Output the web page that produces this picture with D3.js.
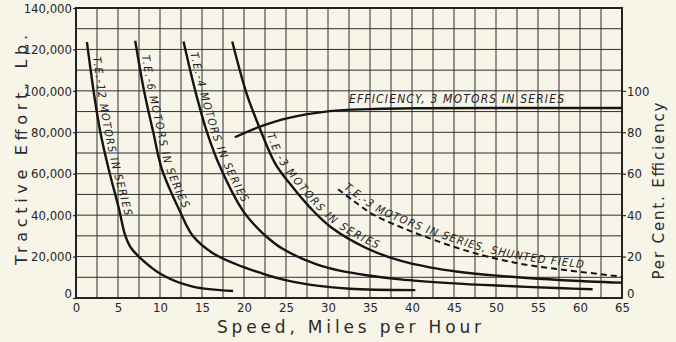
<!DOCTYPE html>
<html>
<head>
<meta charset="utf-8">
<script src="https://cdn.jsdelivr.net/npm/d3@7"></script>
<style>
body { margin: 0; background: #f7f4e8; }
svg { display: block; }
.tick text { font-family: "Liberation Sans Narrow", "DejaVu Sans Condensed", sans-serif; font-size: 13px; fill: #262626; }
.tick line { stroke: #262626; stroke-width: 1.2; }
.title { font-family: "DejaVu Sans", sans-serif; fill: #2a2a2a; }
.lbl { font-family: "DejaVu Sans Condensed", sans-serif; font-style: italic; font-size: 11px; fill: #1e1e1e; }
</style>
</head>
<body>
<div id="chart"></div>
<script>
// speed (miles per hour), tractive effort (lb)
var te12 = [[1.3,123500],[2.2,97000],[2.9,80000],[3.9,62000],[5.15,42500],[5.8,31000],[6.5,24500],[7.5,19900],[10.3,11100],[13.9,5500],[18.7,3400]];
var te6 = [[7.05,124200],[8.1,100000],[9.2,80000],[10.2,62500],[12.3,42500],[13.9,30000],[16.3,21600],[19.8,15100],[21.9,12200],[24.7,8900],[28.65,6000],[32.6,4500],[40.4,3800]];
var te4 = [[12.8,123800],[14.2,100000],[15.6,80000],[17.3,62000],[19.8,42500],[21.2,35500],[23.0,28500],[24.7,23500],[28.65,16200],[31.4,13200],[34.6,11000],[38.6,9000],[44.5,7200],[50.1,6000],[58,4700],[61.5,4200]];
var te3 = [[18.6,123800],[20.3,98800],[21.8,82700],[23.7,65000],[25.5,55000],[27.9,43500],[30.4,34000],[34.6,24000],[38.6,18000],[42.1,14800],[45.5,12700],[50.1,10800],[58,8600],[65,7400]];
var te3shunt = [[31.2,52500],[33,47000],[35.5,40000],[39.4,33000],[41.3,30000],[46.8,22400],[52.7,16700],[58.7,13300],[65,10300]];
// speed, per cent efficiency
var eff3 = [[18.9,77.6],[21.9,82.7],[25.1,86.7],[30.2,90.2],[35,91.2],[41,91.6],[50,91.7],[65,91.7]];

var speedTicks = d3.range(0, 66, 5);
var teTicks = d3.range(0, 140001, 20000);
var effTicks = d3.range(0, 101, 20);

var width = 676, height = 342;
var svg = d3.select("#chart").append("svg")
    .attr("width", width)
    .attr("height", height);

var x = d3.scaleLinear().domain([0, 65]).range([76, 622]);
var y = d3.scaleLinear().domain([0, 140000]).range([298, 8]);
var yEff = d3.scaleLinear().domain([0, 140]).range([298, 8]);

// grid
var grid = svg.append("g").attr("stroke", "#2e2e2e").attr("stroke-width", 1);
grid.selectAll("line.v").data(d3.range(0, 65.01, 2.5)).enter().append("line")
    .attr("x1", d => x(d)).attr("x2", d => x(d))
    .attr("y1", y(0)).attr("y2", y(140000));
grid.selectAll("line.h").data(d3.range(0, 140001, 10000)).enter().append("line")
    .attr("y1", d => y(d)).attr("y2", d => y(d))
    .attr("x1", x(0)).attr("x2", x(65));

// axes
var left = svg.append("g")
    .attr("transform", "translate(" + x(0) + ",0)")
    .call(d3.axisLeft(y).tickValues(teTicks).tickFormat(d3.format(",")).tickSize(3).tickPadding(1));
var bottom = svg.append("g")
    .attr("transform", "translate(0," + y(0) + ")")
    .call(d3.axisBottom(x).tickValues(speedTicks).tickSize(0).tickPadding(5));
var right = svg.append("g")
    .attr("transform", "translate(" + x(65) + ",0)")
    .call(d3.axisRight(yEff).tickValues(effTicks).tickSize(4).tickPadding(1));
svg.selectAll(".domain").remove();
left.selectAll(".tick").filter(d => d == 0).select("text").attr("y", -5);
right.selectAll(".tick").filter(d => d == 0).select("text").attr("y", -5);
right.selectAll(".tick").filter(d => d == 0).select("line").remove();

// frame
svg.append("rect")
    .attr("x", x(0)).attr("y", y(140000))
    .attr("width", x(65) - x(0)).attr("height", y(0) - y(140000))
    .attr("fill", "none").attr("stroke", "#222").attr("stroke-width", 2);

// curves
var line = d3.line().x(d => x(d[0])).y(d => y(d[1])).curve(d3.curveCatmullRom.alpha(0.5));
var effLine = d3.line().x(d => x(d[0])).y(d => yEff(d[1])).curve(d3.curveCatmullRom.alpha(0.5));

var curves = [
  {id: "c12", data: te12, label: "T.E.-12 MOTORS IN SERIES", off: 16, len: 162},
  {id: "c6", data: te6, label: "T.E.-6 MOTORS IN SERIES", off: 16, len: 160},
  {id: "c4", data: te4, label: "T.E.-4 MOTORS IN SERIES", off: 13, len: 160},
  {id: "c3", data: te3, label: "T.E.-3 MOTORS IN SERIES", off: 100, len: 166}
];

curves.forEach(function(c) {
  svg.append("path")
      .attr("id", c.id)
      .attr("d", line(c.data))
      .attr("fill", "none").attr("stroke", "#141414").attr("stroke-width", 2.4);
  svg.append("text").attr("class", "lbl").attr("dy", -4)
    .append("textPath")
      .attr("href", "#" + c.id)
      .attr("startOffset", c.off)
      .attr("textLength", c.len)
      .text(c.label);
});

svg.append("path")
    .attr("id", "c3s")
    .attr("d", line(te3shunt))
    .attr("fill", "none").attr("stroke", "#141414").attr("stroke-width", 2)
    .attr("stroke-dasharray", "6,4");
svg.append("text").attr("class", "lbl").attr("dy", -4)
  .append("textPath")
    .attr("href", "#c3s")
    .attr("startOffset", 4)
    .attr("textLength", 258)
    .text("T.E.-3 MOTORS IN SERIES, SHUNTED FIELD");

svg.append("path")
    .attr("d", effLine(eff3))
    .attr("fill", "none").attr("stroke", "#141414").attr("stroke-width", 2.4);
svg.append("text").attr("class", "lbl")
    .attr("x", 349).attr("y", 103)
    .attr("textLength", 215)
    .style("font-size", "12px")
    .text("EFFICIENCY, 3 MOTORS IN SERIES");

// axis titles
svg.append("text").attr("class", "title")
    .attr("text-anchor", "middle")
    .attr("transform", "translate(27,150)rotate(-90)")
    .attr("textLength", 230)
    .style("font-size", "16px")
    .text("Tractive Effort, Lb.");

svg.append("text").attr("class", "title")
    .attr("text-anchor", "middle")
    .attr("transform", "translate(664,191)rotate(-90)")
    .attr("textLength", 177)
    .style("font-size", "15px")
    .text("Per Cent. Efficiency");

svg.append("text").attr("class", "title")
    .attr("text-anchor", "middle")
    .attr("x", 349).attr("y", 333)
    .attr("textLength", 264)
    .style("font-size", "17px")
    .text("Speed, Miles per Hour");
</script>
</body>
</html>
